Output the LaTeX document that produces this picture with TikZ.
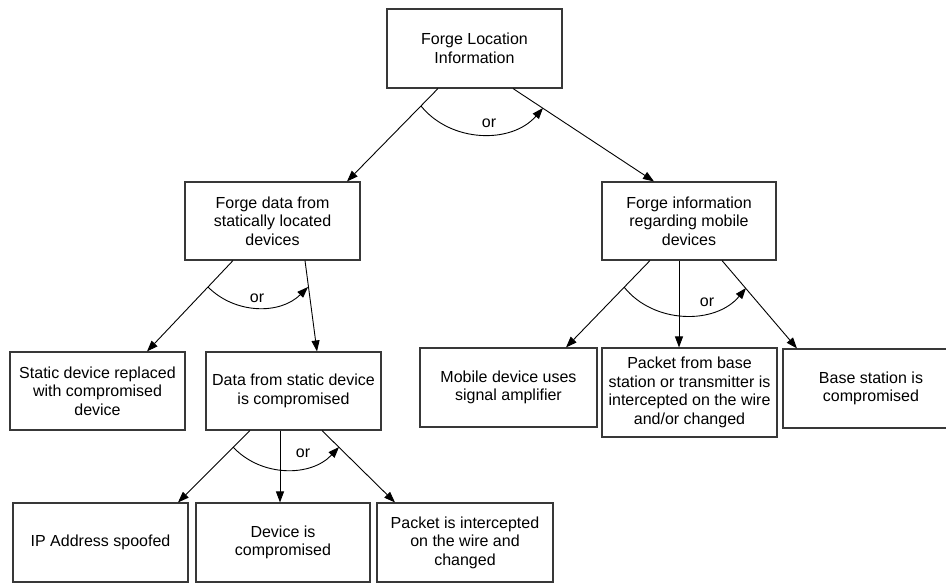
\documentclass[tikz,border=0pt]{standalone}
\usepackage{fontspec}
\setmainfont{Liberation Sans}
\usetikzlibrary{arrows.meta,calc}
\begin{document}
\begin{tikzpicture}[x=1pt,y=1pt,
  box/.style={draw=black!78,line width=1.1pt,fill=white,inner sep=0pt,align=center,
    font=\fontsize{16}{18.5}\selectfont},
  arr/.style={draw=black,line width=0.9pt,-{Triangle[length=11pt,width=8pt]}},
  orlab/.style={font=\fontsize{16}{18.5}\selectfont,inner sep=0pt}]
\useasboundingbox (0,-583) rectangle (946,0);
\clip (0,-583) rectangle (946,0);
% boxes
\node[box,minimum width=175pt,minimum height=79pt] (top) at (474.5,-48.5) {Forge Location\\Information};
\node[box,minimum width=175pt,minimum height=78pt] (fdata) at (272.5,-221) {Forge data from\\statically located\\devices};
\node[box,minimum width=174pt,minimum height=78pt] (finfo) at (689,-221) {Forge information\\regarding mobile\\devices};
\node[box,minimum width=175pt,minimum height=78pt] (static) at (97.5,-391) {Static device replaced\\with compromised\\device};
\node[box,minimum width=175pt,minimum height=78pt] (dstat) at (293.5,-391) {Data from static device\\is compromised};
\node[box,minimum width=177pt,minimum height=79pt] (mobile) at (508.5,-387.5) {Mobile device uses\\signal amplifier};
\node[box,minimum width=175pt,minimum height=89pt] (pbase) at (689.5,-392.5) {Packet from base\\station or transmitter is\\intercepted on the wire\\and/or changed};
\node[box,minimum width=176pt,minimum height=79pt] (bstat) at (871,-388.5) {Base station is\\compromised};
\node[box,minimum width=175pt,minimum height=79pt] (ip) at (100.5,-542.5) {IP Address spoofed};
\node[box,minimum width=174pt,minimum height=79pt] (dev) at (283,-542.5) {Device is\\compromised};
\node[box,minimum width=176pt,minimum height=79pt] (pkt) at (465,-542.5) {Packet is intercepted\\on the wire and\\changed};
% group 1
\draw[arr] ([xshift=-36.5pt]top.south) -- ([xshift=74.5pt]fdata.north);
\draw[arr] ([xshift=38.5pt]top.south) -- ([xshift=-35pt]finfo.north);
\coordinate (g1a) at (421,-106);
\coordinate (g1b) at (543,-108);
\draw[arr] (g1a) to[bend right=50] (g1b);
\node[orlab] (or1) at (489,-123) {or};
% group 2
\draw[arr] ([xshift=-39.5pt]fdata.south) -- ([xshift=49.5pt]static.north);
\draw[arr] ([xshift=32.5pt]fdata.south) -- ([xshift=23.5pt]dstat.north);
\coordinate (g2a) at (208,-287);
\coordinate (g2b) at (308,-287);
\draw[arr] (g2a) to[bend right=45] (g2b);
\node[orlab] (or2) at (257,-298) {or};
% group 3
\draw[arr] ([xshift=-39pt]finfo.south) -- ([xshift=57.5pt]mobile.north);
\draw[arr] ([xshift=-10pt]finfo.south) -- ([xshift=-10.5pt]pbase.north);
\draw[arr] ([xshift=33pt]finfo.south) -- ([xshift=-74pt]bstat.north);
\coordinate (g3a) at (624,-287);
\coordinate (g3b) at (746,-288);
\draw[arr] (g3a) to[bend right=51] (g3b);
\node[orlab] (or3) at (707,-302) {or};
% group 4
\draw[arr] ([xshift=-43.5pt]dstat.south) -- ([xshift=77.5pt]ip.north);
\draw[arr] ([xshift=-13.5pt]dstat.south) -- ([xshift=-3pt]dev.north);
\draw[arr] ([xshift=28.5pt]dstat.south) -- ([xshift=-70pt]pkt.north);
\coordinate (g4a) at (233,-447);
\coordinate (g4b) at (339,-447);
\draw[arr] (g4a) to[bend right=47] (g4b);
\node[orlab] (or4) at (303,-453) {or};
\end{tikzpicture}
\end{document}
